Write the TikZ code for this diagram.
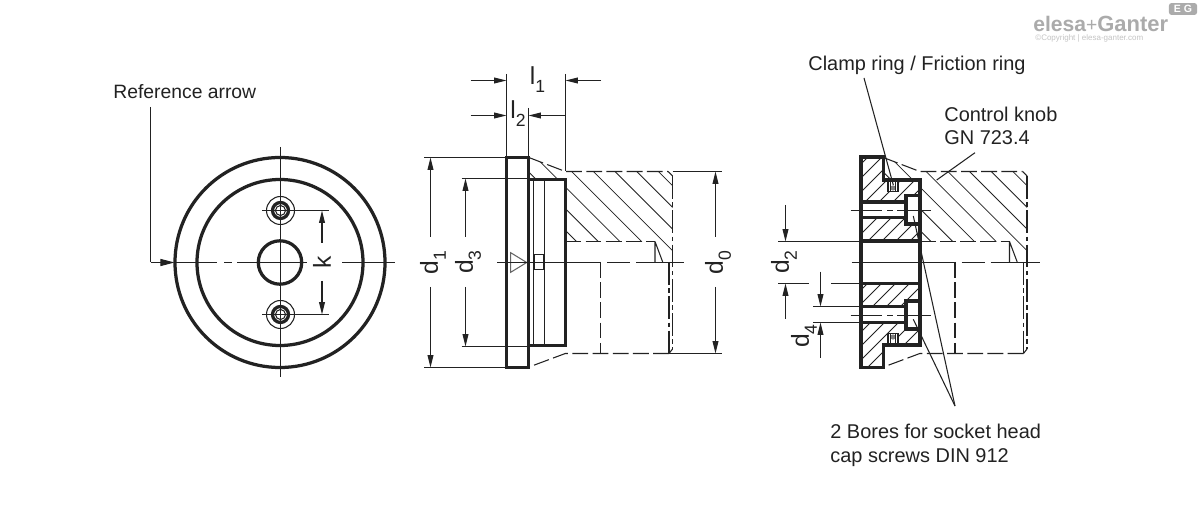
\documentclass[tikz,border=0pt]{standalone}
\usepackage{fontspec}
\setmainfont{Liberation Sans}
\usetikzlibrary{arrows.meta}
\definecolor{inkcol}{HTML}{222222}
\definecolor{logocol}{HTML}{ABABAB}
\definecolor{copycol}{HTML}{C4C4C4}
\newcommand{\dimtext}[2]{#1\raisebox{-4.6pt}{\fontsize{10}{10}\selectfont #2}}
% Ghost of the control knob, drawn in coordinates of the middle view
\newcommand{\knobghost}{
    \begin{scope}
        \clip (528.3,157.3) -- (565.3,171.3) -- (668,171.3) -- (672.7,176) -- (672.7,262)
            -- (662.7,262) -- (655,241.7) -- (565.3,241.7) -- (565.3,179.3) -- (528.3,179.3) -- cycle;
        \foreach \k in {335,356.7,...,490}{
            \draw[hatchline] (\k+100,100) -- (\k+300,300);
        }
    \end{scope}
    \draw[hidden] (528.3,157.3) -- (565.3,171.5) -- (668,171.5);
    \draw[thinline] (668,171.5) -- (672.5,176);
    \draw[ghostline] (672.5,176) -- (672.5,349);
    \draw[thinline] (672.5,349) -- (669,353.5);
    \draw[hidden] (669,353.5) -- (565.3,353.5) -- (528.3,367.3);
    \draw[hidden] (565.3,241.5) -- (655,241.5);
    \draw[thinline] (655,241.5) -- (655,262) (655,241.5) -- (662.7,262);
    \draw[hidden] (600.5,262) -- (600.5,353.5);
    \draw[ghostline] (669,262) -- (669,353.5);
}
\begin{document}
\begin{tikzpicture}[x=0.02cm,y=-0.02cm,color=inkcol,
    outline/.style={line width=1.85pt,line join=miter},
    midline/.style={line width=0.9pt},
    thinline/.style={line width=0.6pt},
    hatchline/.style={line width=0.45pt},
    hidden/.style={line width=0.6pt,dash pattern=on 9pt off 2.5pt},
    ghostline/.style={line width=0.6pt,dash pattern=on 13pt off 2pt on 2.5pt off 2pt},
    dimarrow/.style={line width=0.6pt,-{Triangle[length=7pt,width=3.3pt]}},
    refarrow/.style={line width=0.6pt,-{Triangle[length=8pt,width=4pt]}},
    callout/.style={inner sep=0pt,anchor=base west,font=\fontsize{11.35}{13}\selectfont},
    dimlabel/.style={inner sep=0pt,font=\fontsize{14}{15}\selectfont}]

    \useasboundingbox (0,0) rectangle (1200,509);
    \fill[white] (0,0) rectangle (1200,509);

    % Left view
    \coordinate (hubcentre) at (280,262.5);
    \coordinate (refstart) at (150.5,107);
    \coordinate (refbend) at (150.5,262.5);
    \coordinate (reftip) at (174.5,262.5);
    \draw[outline] (hubcentre) circle (105);
    \draw[outline] (hubcentre) circle (83);
    \draw[outline] (hubcentre) circle (21.7);
    \foreach \hy in {210.5,314.5}{
        \draw[thinline] (280.5,\hy) circle (14);
        \draw[outline] (280.5,\hy) circle (8);
        \draw[thinline] (280.5,\hy) circle (5);
        \draw[thinline] (262,\hy) -- (329,\hy);
    }
    \draw[thinline] (280.5,147) -- (280.5,377);
    \draw[thinline] (174.5,262.5) -- (217,262.5) (224,262.5) -- (232,262.5)
        (237,262.5) -- (307,262.5) (342,262.5) -- (395,262.5);
    \draw[thinline] (refstart) -- (refbend);
    \draw[refarrow] (refbend) -- (reftip);
    \draw[dimarrow] (322,243) -- (322,210.5);
    \draw[dimarrow] (322,281) -- (322,314.5);
    \node[dimlabel,rotate=90] (klabel) at (322,262) {k};
    \node[callout,font=\fontsize{11}{13}\selectfont] (reflabel) at (113,99) {Reference arrow};

    % Middle view
    \knobghost
    \draw[thinline] (497,262.5) -- (601,262.5) (607,262.5) -- (630,262.5) (636,262.5) -- (684,262.5);
    \draw[outline,fill=white] (506.7,157.3) rectangle (528.3,367.3);
    \draw[outline,fill=white] (528.3,179.3) rectangle (565.3,345.3);
    \draw[midline] (533.5,179.3) -- (533.5,345.3) (544.5,179.3) -- (544.5,345.3);
    \draw[thinline,draw=black!60] (510.7,252.7) -- (526.7,262.5) -- (510.7,272.3) -- cycle;
    \draw[thinline] (534,254.5) rectangle (544,269.5);
    \draw[thinline] (497,262.5) -- (565.3,262.5);
    % Dimension lines of the middle view
    \draw[thinline] (506.5,74) -- (506.5,157.3) (565.5,74) -- (565.5,171.3) (528.5,108) -- (528.5,157.3);
    \draw[thinline] (424,157.5) -- (506.7,157.5) (424,367.5) -- (506.7,367.5);
    \draw[thinline] (461.7,178.5) -- (528.3,178.5) (461.7,346.5) -- (528.3,346.5);
    \draw[thinline] (672.5,171.5) -- (721.7,171.5) (669,353.5) -- (721.7,353.5);
    \draw[dimarrow] (470.7,80.5) -- (506.5,80.5);
    \draw[dimarrow] (601,80.5) -- (565.5,80.5);
    \draw[dimarrow] (470.7,115.5) -- (506.5,115.5);
    \draw[dimarrow] (565.3,115.5) -- (528.5,115.5);
    \draw[dimarrow] (430.5,237) -- (430.5,157.5);
    \draw[dimarrow] (430.5,287) -- (430.5,367.5);
    \draw[dimarrow] (465.5,237) -- (465.5,178.5);
    \draw[dimarrow] (465.5,287) -- (465.5,346.5);
    \draw[dimarrow] (715.5,237) -- (715.5,171.5);
    \draw[dimarrow] (715.5,287) -- (715.5,353.5);
    \node[dimlabel] (lonelabel) at (537.5,80) {\dimtext{l}{1}};
    \node[dimlabel] (ltwolabel) at (518,114) {\dimtext{l}{2}};
    \node[dimlabel,rotate=90] (donelabel) at (433,262.5) {\dimtext{d}{1}};
    \node[dimlabel,rotate=90] (dthreelabel) at (468,262) {\dimtext{d}{3}};
    \node[dimlabel,rotate=90] (dzerolabel) at (718,262.5) {\dimtext{d}{0}};

    % Right view
    \begin{scope}[shift={(354.5,0)}]
        \knobghost
        \draw[thinline] (497,262.5) -- (601,262.5) (607,262.5) -- (630,262.5) (636,262.5) -- (685,262.5);
    \end{scope}
    \begin{scope}
        \clip (861,157) -- (883.3,157) -- (883.3,180) -- (920,180) -- (920,241) -- (861,241) -- cycle
            (861,367.3) -- (883.3,367.3) -- (883.3,345) -- (920,345) -- (920,283.3) -- (861,283.3) -- cycle;
        \foreach \k in {1025,1039,...,1290}{
            \draw[hatchline] (\k-100,100) -- (\k-400,400);
        }
    \end{scope}
    % Screw bores and seal rings
    \foreach \ya/\yb/\yc/\yd/\ye in {195.7/202/210.5/217.3/224,301/306.7/315.5/322.7/329}{
        \fill[white] (861,\yb) rectangle (906,\yd);
        \fill[white] (906,\ya) rectangle (920,\ye);
        \draw[outline] (861,\yb) -- (906,\yb) (861,\yd) -- (906,\yd);
        \draw[outline] (920,\ya) -- (906,\ya) -- (906,\ye) -- (920,\ye);
        \draw[thinline] (850.7,\yc) -- (882,\yc) (887,\yc) -- (893,\yc) (897,\yc) -- (930.7,\yc);
    }
    \foreach \ya/\yb/\yc in {180/191.7/188,333.3/345/337}{
        \draw[thinline,fill=white] (888,\ya) rectangle (898,\yb);
        \fill[gray] (893,\yc) circle (2.6);
        \draw[hatchline] (890.5,\ya) -- (890.5,\yb) (895.5,\ya) -- (895.5,\yb);
    }
    \draw[outline] (861,157) -- (883.3,157) -- (883.3,180) -- (920,180) -- (920,345) -- (883.3,345)
        -- (883.3,367.3) -- (861,367.3) -- cycle;
    \draw[outline] (861,241) -- (920,241) (861,283.3) -- (920,283.3);
    % Leaders and dimension lines of the right view
    \coordinate (clampstart) at (864,78);
    \coordinate (clampend) at (893.3,185);
    \coordinate (knobstart) at (975,152.7);
    \coordinate (knobend) at (936.7,180);
    \coordinate (boreapex) at (955,406);
    \coordinate (boreupper) at (913.3,216);
    \coordinate (borelower) at (913.3,319.3);
    \draw[thinline] (clampstart) -- (clampend);
    \draw[thinline] (knobstart) -- (knobend);
    \draw[thinline] (boreapex) -- (boreupper);
    \draw[thinline] (boreapex) -- (borelower);
    \draw[thinline] (778,241.5) -- (861,241.5) (778,283.5) -- (809,283.5) (831,283.5) -- (861,283.5);
    \draw[thinline] (813,306.5) -- (861,306.5) (813,322.5) -- (861,322.5);
    \draw[dimarrow] (785.5,205) -- (785.5,241.5);
    \draw[dimarrow] (785.5,319) -- (785.5,283.5);
    \draw[dimarrow] (820.5,271.7) -- (820.5,306.5);
    \draw[dimarrow] (820.5,358) -- (820.5,322.5);
    \node[dimlabel,rotate=90] (dtwolabel) at (784,262) {\dimtext{d}{2}};
    \node[dimlabel,rotate=90] (dfourlabel) at (804,336) {\dimtext{d}{4}};
    \node[callout] (clamplabel) at (808,71) {Clamp ring / Friction ring};
    \node[callout] (knoblabel) at (944,121.5) {Control knob};
    \node[callout] (gnlabel) at (944,144.5) {GN 723.4};
    \node[callout] (borelabel) at (830,438.5) {2 Bores for socket head};
    \node[callout] (screwlabel) at (830,462.5) {cap screws DIN 912};

    % Logo
    \node[inner sep=0pt,anchor=base west,text=logocol,font=\fontsize{12}{12}\bfseries\selectfont] (logolabel) at (1033,32) {elesa\fontsize{11}{11}\mdseries\selectfont+\fontsize{12.5}{12}\bfseries\selectfont Ganter};
    \node[inner sep=0pt,anchor=base west,text=copycol,font=\fontsize{4.55}{5}\selectfont] (copylabel) at (1035,41) {©Copyright | elesa-ganter.com};
    \node[fill=logocol,rounded corners=1.5pt,inner sep=0pt,minimum width=16pt,minimum height=6.8pt,text=white,font=\fontsize{6}{6}\bfseries\selectfont] (egbadge) at (1183,9) {E G};
\end{tikzpicture}
\end{document}
